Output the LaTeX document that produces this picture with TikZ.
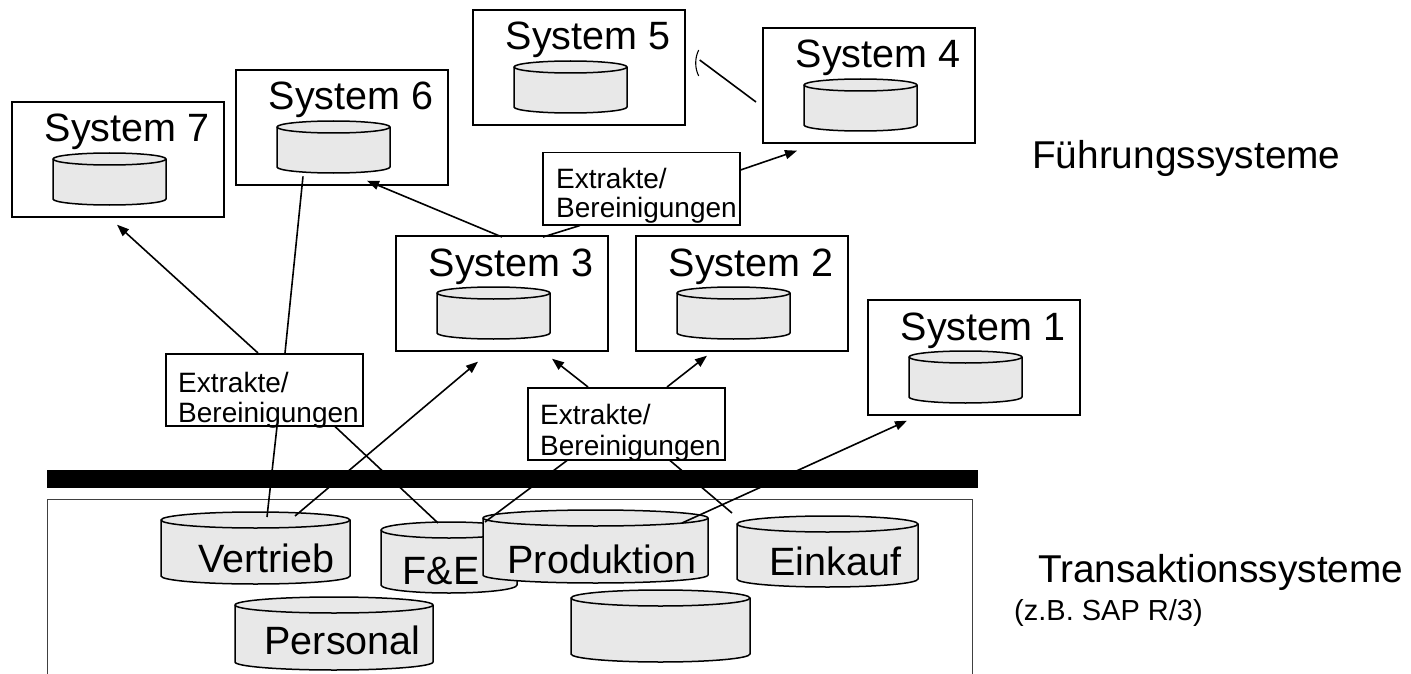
\documentclass[tikz,border=0pt]{standalone}
\usepackage{fontspec}
\setmainfont{Liberation Sans}
\usetikzlibrary{arrows.meta,calc}
\definecolor{cylgray}{HTML}{E8E8E8}
\newcommand{\mycyl}[6]{%
  \pgfmathsetmacro\cyL{#2}\pgfmathsetmacro\cyT{#3}%
  \pgfmathsetmacro\cyR{#4}\pgfmathsetmacro\cyB{#5}%
  \pgfmathsetmacro\cyr{#6}%
  \pgfmathsetmacro\cyrx{(\cyR-\cyL)/2}%
  \pgfmathsetmacro\cyW{\cyR-\cyL}\pgfmathsetmacro\cyH{\cyB-\cyT}%
  \node[inner sep=0pt, minimum width=\cyW pt, minimum height=\cyH pt, anchor=north west] (#1) at (\cyL,\cyT) {};
  \path[cylfill] (\cyL,\cyT+\cyr) -- (\cyL,\cyB-\cyr)
     arc[start angle=180,end angle=0,x radius=\cyrx,y radius=\cyr]
     -- (\cyR,\cyT+\cyr)
     arc[start angle=0,end angle=-180,x radius=\cyrx,y radius=\cyr] -- cycle;
  \draw[cylline] (\cyL,\cyT+\cyr) arc[start angle=180,end angle=0,x radius=\cyrx,y radius=\cyr];
}
\newcommand{\sysbox}[4]{%
  \node[sysbox] (#1) at (#2,#3) {};
  \node[systext] (#1t) at (#2+116,#3+41) {System #4};
  \mycyl{#1c}{#2+42}{#3+52}{#2+155}{#3+104}{6}
}
\begin{document}
\begin{tikzpicture}[x=1pt,y=-1pt,
  sysbox/.style={draw, line width=1.7pt, minimum width=212pt, minimum height=115pt, inner sep=0pt, anchor=north west},
  exbox/.style={draw, fill=white, line width=1.5pt, minimum width=197pt, minimum height=72pt, inner sep=0pt, anchor=north west},
  systext/.style={font=\fontsize{39.5}{41}\selectfont, inner sep=0pt, anchor=base},
  cyltext/.style={font=\fontsize{39.5}{41}\selectfont, inner sep=0pt, anchor=base},
  extext/.style={font=\fontsize{28}{30}\selectfont, inner sep=0pt, anchor=base west},
  biglabel/.style={font=\fontsize{38.8}{40}\selectfont, inner sep=0pt, anchor=base west},
  smalllabel/.style={font=\fontsize{29}{30}\selectfont, inner sep=0pt, anchor=base west},
  cylfill/.style={fill=cylgray, draw=black, line width=1.5pt, line join=round},
  cylline/.style={line width=1.5pt},
  conn/.style={line width=1.6pt},
  arr/.style={conn, -{Triangle[length=12pt,width=9pt]}},
]
\useasboundingbox (0,0) rectangle (1411,674);

% Transaction layer
\fill (47,470) rectangle (978,488);
\draw[line width=1pt, black!75] (47,676) -- (47,499) -- (972,499) -- (972,676);

% System boxes
\sysbox{s7}{11}{101}{7}
\sysbox{s6}{235}{69}{6}
\sysbox{s5}{472}{9}{5}
\sysbox{s4}{762}{27}{4}
\sysbox{s3}{395}{235}{3}
\sysbox{s2}{635}{235}{2}
\sysbox{s1}{867}{299}{1}

% Bottom databases
\mycyl{vert}{161}{512}{350}{584}{8}
\mycyl{pers}{235}{597}{433}{670}{8}
\mycyl{fue}{381}{522}{517}{593}{8}
\mycyl{prod}{483}{510}{708}{583}{8}
\mycyl{eink}{737}{516}{918}{587}{8}
\mycyl{leer}{571}{590}{750}{662}{8}
\node[cyltext] (vertt) at (266.5,572) {Vertrieb};
\node[cyltext] (perst) at (342.5,654) {Personal};
\node[cyltext] (fuet) at (441,584) {F\&E};
\node[cyltext] (prodt) at (602,573) {Produktion};
\node[cyltext] (einkt) at (835.5,575) {Einkauf};

% Extract boxes
\node[exbox] (ex1) at (165,353) {};
\node[extext] (ex1a) at (178,392) {Extrakte/};
\node[extext] (ex1b) at (178,422) {Bereinigungen};
\node[exbox] (ex2) at (527,387) {};
\node[extext] (ex2a) at (540,424) {Extrakte/};
\node[extext] (ex2b) at (540,455) {Bereinigungen};
\node[exbox] (ex3) at (542,152) {};
\node[extext] (ex3a) at (556,188) {Extrakte/};
\node[extext] (ex3b) at (556,217) {Bereinigungen};

% Connectors
\draw[arr] ($(ex1.north west)+(93,0)$) -- ($(s7.south west)+(106,7)$);
\draw[conn] ($(ex1.north west)+(120,0)$) -- ($(s6c.south west)+(26,3)$);
\draw[conn] ($(ex1.south west)+(112,0)$) -- ($(vert.north west)+(106,5)$);
\draw[conn] ($(ex1.south west)+(170,0)$) -- ($(fue.north west)+(57,1)$);
\draw[arr] ($(vert.north west)+(134,4)$) -- ($(s3.south west)+(83,10)$);
\draw[arr] ($(ex2.north west)+(61,0)$) -- ($(s3.south west)+(157,7)$);
\draw[arr] ($(ex2.north west)+(140,0)$) -- ($(s2.south west)+(72,4)$);
\draw[conn] ($(ex2.south west)+(40,0)$) -- ($(prod.north west)+(2,12)$);
\draw[conn] ($(ex2.south west)+(143,0)$) -- ($(eink.north west)+(-5,-3)$);
\draw[arr] ($(prod.north west)+(199,13)$) -- ($(s1.south west)+(40,5)$);
\draw[arr] ($(s3.north west)+(107,2)$) -- ($(s6.south west)+(132,-5)$);
\draw[conn] ($(s3.north west)+(148,2)$) -- ($(ex3.south west)+(38,0)$);
\draw[arr] ($(ex3.north east)+(0,18)$) -- ($(s4.south west)+(35,7)$);
\coordinate (tk1) at ($(s5.north east)+(13,41)$);
\coordinate (tk2) at ($(s5.north east)+(13,67)$);
\coordinate (tkc1) at ($(s5.north east)+(9,49)$);
\coordinate (tkc2) at ($(s5.north east)+(9,59)$);
\draw[conn] ($(s4.north west)+(-6,75)$) -- ($(s5.north east)+(14,51)$);
\draw[line width=1.1pt] (tk1) .. controls (tkc1) and (tkc2) .. (tk2);

% Layer labels
\node[biglabel] (fs) at (1032,168) {Führungssysteme};
\node[biglabel] (ts) at (1038,582) {Transaktionssysteme};
\node[smalllabel] (sap) at (1014,620) {(z.B. SAP R/3)};
\end{tikzpicture}
\end{document}
